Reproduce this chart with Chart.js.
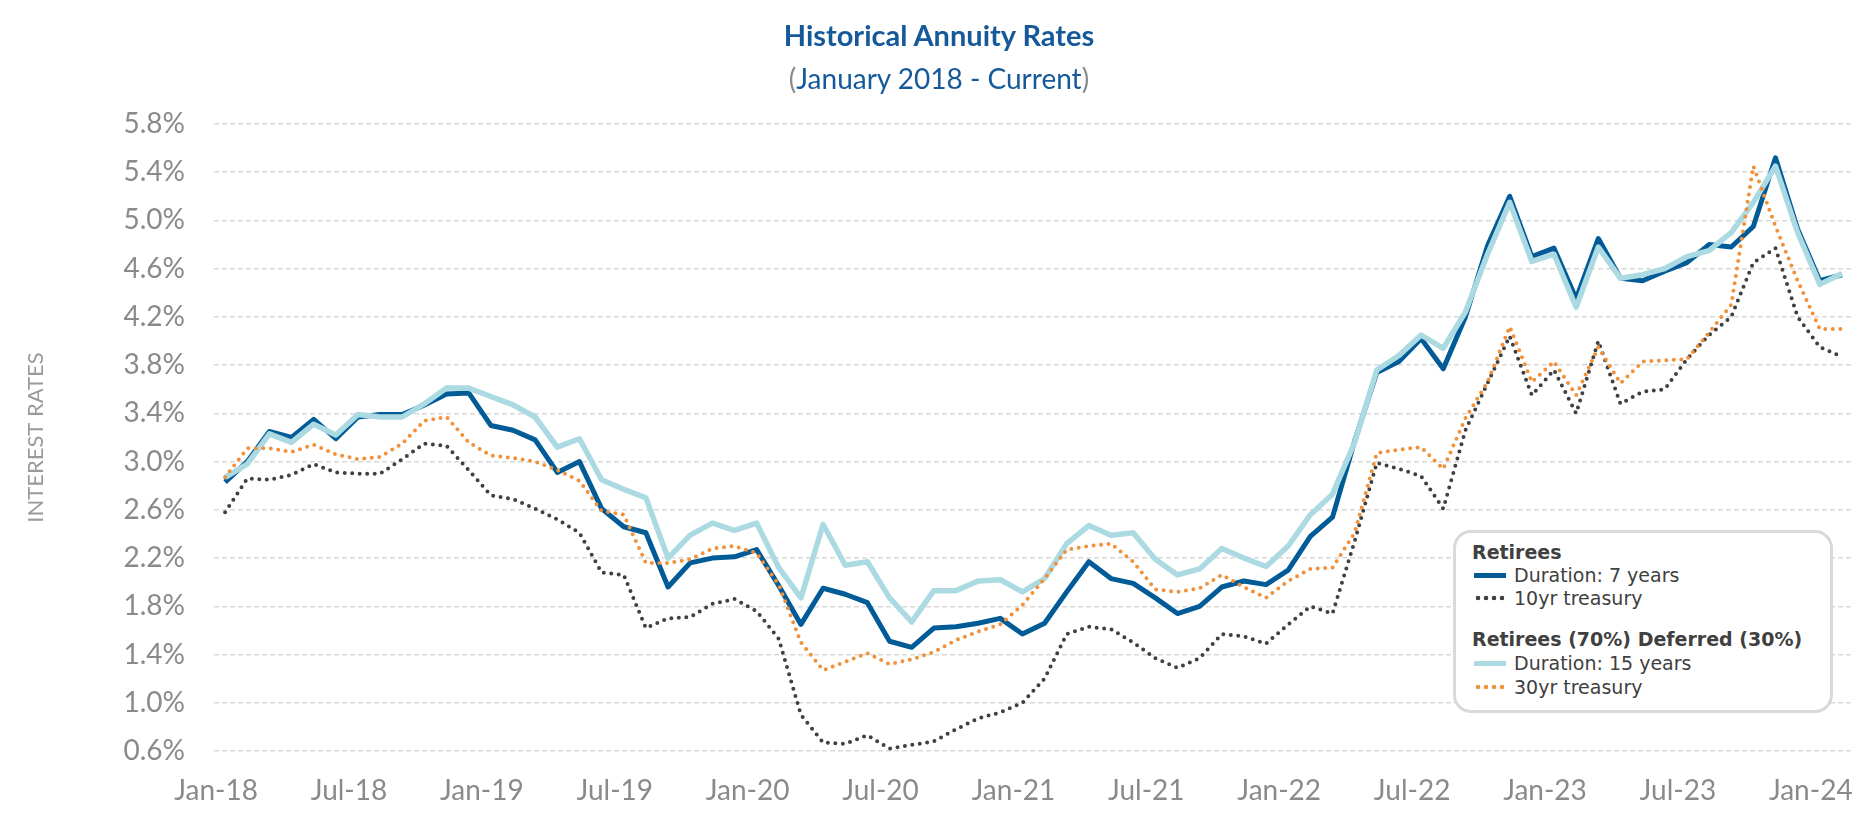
<!DOCTYPE html>
<html>
<head>
<meta charset="utf-8">
<title>Historical Annuity Rates</title>
<script src="https://cdn.jsdelivr.net/npm/chart.js@4.4.1/dist/chart.umd.min.js"></script>
<style>
    body { margin: 0; background: #fff; font-family: Lato, "Open Sans", sans-serif; }
    #wrap { position: relative; width: 1875px; height: 829px; }
    #title { position: absolute; left: 0; width: 1878px; top: 16px; text-align: center; color: #15599a; }
    #title .main { font-weight: bold; font-size: 29px; line-height: 38px; }
    #title .sub { font-size: 28px; line-height: 38px; margin-top: 5px; }
    #title .paren { color: #8a8a8a; }
    #legend {
        position: absolute; left: 1453px; top: 530px; width: 374px; height: 177px;
        border: 3px solid #d9d9d9; border-radius: 18px; background: #fff;
        color: #404040; font-family: "DejaVu Sans", sans-serif; font-size: 19px;
    }
    #legend .head { position: absolute; left: 16px; font-weight: bold; }
    #legend .item { position: absolute; left: 58px; }
    #legend .sw { position: absolute; left: -40px; top: 50%; width: 32px; }
    .solid-dark { height: 5px; margin-top: -2px; background: #005b97; }
    .solid-light { height: 5px; margin-top: -2px; background: #acdae2; }
    .dots-black { height: 6px; margin-top: -3px; background: radial-gradient(circle, #404040 2px, transparent 2.6px) 0 0 / 8px 6px repeat-x; }
    .dots-orange { height: 6px; margin-top: -3px; background: radial-gradient(circle, #f0913c 2px, transparent 2.6px) 0 0 / 8px 6px repeat-x; }
</style>
</head>
<body>
<div id="wrap">
    <canvas id="chart" width="1875" height="829"></canvas>
    <div id="title">
        <div class="main">Historical Annuity Rates</div>
        <div class="sub"><span class="paren">(</span>January 2018 - Current<span class="paren">)</span></div>
    </div>
    <div id="legend">
        <div class="head" style="top: 8px;">Retirees</div>
        <div class="item" style="top: 31px;"><div class="sw solid-dark"></div>Duration: 7 years</div>
        <div class="item" style="top: 54px;"><div class="sw dots-black"></div>10yr treasury</div>
        <div class="head" style="top: 95px;">Retirees (70%) Deferred (30%)</div>
        <div class="item" style="top: 119px;"><div class="sw solid-light"></div>Duration: 15 years</div>
        <div class="item" style="top: 143px;"><div class="sw dots-orange"></div>30yr treasury</div>
    </div>
</div>
<script>

var months = [
    'Jan-18', 'Feb-18', 'Mar-18', 'Apr-18', 'May-18', 'Jun-18', 'Jul-18', 'Aug-18', 'Sep-18', 'Oct-18', 'Nov-18', 'Dec-18',
    'Jan-19', 'Feb-19', 'Mar-19', 'Apr-19', 'May-19', 'Jun-19', 'Jul-19', 'Aug-19', 'Sep-19', 'Oct-19', 'Nov-19', 'Dec-19',
    'Jan-20', 'Feb-20', 'Mar-20', 'Apr-20', 'May-20', 'Jun-20', 'Jul-20', 'Aug-20', 'Sep-20', 'Oct-20', 'Nov-20', 'Dec-20',
    'Jan-21', 'Feb-21', 'Mar-21', 'Apr-21', 'May-21', 'Jun-21', 'Jul-21', 'Aug-21', 'Sep-21', 'Oct-21', 'Nov-21', 'Dec-21',
    'Jan-22', 'Feb-22', 'Mar-22', 'Apr-22', 'May-22', 'Jun-22', 'Jul-22', 'Aug-22', 'Sep-22', 'Oct-22', 'Nov-22', 'Dec-22',
    'Jan-23', 'Feb-23', 'Mar-23', 'Apr-23', 'May-23', 'Jun-23', 'Jul-23', 'Aug-23', 'Sep-23', 'Oct-23', 'Nov-23', 'Dec-23',
    'Jan-24', 'Feb-24'
];

// Retirees - Duration: 7 years
var duration7 = [
    2.83, 3.00, 3.25, 3.20, 3.35, 3.19, 3.37, 3.39, 3.39, 3.47, 3.56, 3.57,
    3.30, 3.26, 3.18, 2.91, 3.00, 2.61, 2.46, 2.41, 1.96, 2.16, 2.20, 2.21,
    2.27, 1.97, 1.65, 1.95, 1.90, 1.83, 1.51, 1.46, 1.62, 1.63, 1.66, 1.70,
    1.57, 1.66, 1.92, 2.17, 2.03, 1.99, 1.87, 1.74, 1.80, 1.96, 2.01, 1.98,
    2.10, 2.38, 2.54, 3.17, 3.74, 3.83, 4.02, 3.77, 4.20, 4.79, 5.20, 4.70,
    4.77, 4.35, 4.85, 4.52, 4.50, 4.58, 4.65, 4.80, 4.78, 4.95, 5.52, 4.93,
    4.50, 4.55
];

// Retirees - 10yr treasury
var treasury10 = [
    2.58, 2.86, 2.85, 2.89, 2.98, 2.91, 2.90, 2.90, 3.02, 3.15, 3.13, 2.93,
    2.72, 2.69, 2.61, 2.52, 2.41, 2.08, 2.06, 1.62, 1.70, 1.71, 1.82, 1.86,
    1.76, 1.53, 0.90, 0.67, 0.66, 0.73, 0.62, 0.65, 0.68, 0.78, 0.87, 0.92,
    1.00, 1.20, 1.57, 1.63, 1.61, 1.50, 1.37, 1.29, 1.37, 1.57, 1.55, 1.49,
    1.65, 1.80, 1.74, 2.34, 2.99, 2.94, 2.88, 2.61, 3.26, 3.65, 4.04, 3.55,
    3.76, 3.40, 4.00, 3.48, 3.58, 3.60, 3.85, 4.05, 4.20, 4.65, 4.77, 4.20,
    3.95, 3.87
];

// Retirees (70%) Deferred (30%) - Duration: 15 years
var duration15 = [
    2.87, 2.98, 3.23, 3.16, 3.31, 3.22, 3.39, 3.37, 3.37, 3.48, 3.61, 3.61,
    3.54, 3.47, 3.37, 3.12, 3.19, 2.85, 2.77, 2.70, 2.20, 2.39, 2.49, 2.43,
    2.49, 2.12, 1.87, 2.48, 2.14, 2.17, 1.87, 1.67, 1.93, 1.93, 2.01, 2.02,
    1.92, 2.03, 2.32, 2.47, 2.39, 2.41, 2.19, 2.06, 2.11, 2.28, 2.20, 2.13,
    2.30, 2.56, 2.73, 3.16, 3.76, 3.88, 4.05, 3.94, 4.24, 4.72, 5.15, 4.66,
    4.72, 4.28, 4.78, 4.52, 4.55, 4.60, 4.70, 4.75, 4.90, 5.15, 5.45, 4.90,
    4.47, 4.56
];

// Retirees (70%) Deferred (30%) - 30yr treasury
var treasury30 = [
    2.87, 3.11, 3.11, 3.08, 3.14, 3.06, 3.02, 3.04, 3.15, 3.34, 3.37, 3.16,
    3.05, 3.03, 3.00, 2.93, 2.84, 2.59, 2.56, 2.16, 2.16, 2.19, 2.28, 2.30,
    2.24, 1.98, 1.50, 1.27, 1.34, 1.41, 1.32, 1.36, 1.42, 1.52, 1.59, 1.65,
    1.81, 2.03, 2.27, 2.30, 2.32, 2.17, 1.94, 1.92, 1.95, 2.06, 1.96, 1.87,
    2.01, 2.11, 2.12, 2.41, 3.07, 3.10, 3.12, 2.94, 3.36, 3.66, 4.12, 3.66,
    3.83, 3.55, 3.95, 3.65, 3.83, 3.84, 3.85, 4.07, 4.30, 5.45, 4.95, 4.50,
    4.10, 4.10
];

var Y_MIN = 0.6;
var Y_MAX = 5.8;
var Y_STEP = 0.4;
var LABEL_EVERY = 6;

var tickFont = { family: 'Lato', size: 28 };
var tickColor = '#8a8a8a';

function dotted(label, data, color) {
    return {
        label: label,
        data: data,
        borderColor: color,
        borderWidth: 4,
        borderDash: [0, 7.5],
        borderCapStyle: 'round',
        pointRadius: 0,
        tension: 0,
        fill: false
    };
}

function solid(label, data, color, width) {
    return {
        label: label,
        data: data,
        borderColor: color,
        borderWidth: width,
        borderJoinStyle: 'round',
        pointRadius: 0,
        tension: 0,
        fill: false
    };
}

// first dataset is drawn on top
var datasets = [
    dotted('30yr treasury', treasury30, '#f0913c'),
    dotted('10yr treasury', treasury10, '#404040'),
    solid('Duration: 15 years', duration15, '#acdae2', 5.5),
    solid('Duration: 7 years', duration7, '#005b97', 5)
];

var chart = new Chart(document.getElementById('chart').getContext('2d'), {
    type: 'line',
    data: { labels: months, datasets: datasets },
    options: {
        responsive: false,
        animation: false,
        layout: { padding: { top: 124, right: 22, bottom: 0, left: 0 } },
        plugins: {
            legend: { display: false },
            tooltip: { enabled: false }
        },
        scales: {
            x: {
                type: 'category',
                offset: true,
                grid: { display: false, drawTicks: false },
                border: { display: false },
                ticks: {
                    autoSkip: false,
                    maxRotation: 0,
                    padding: 23,
                    labelOffset: -9,
                    color: tickColor,
                    font: tickFont,
                    callback: function (val, idx) {
                        return idx % LABEL_EVERY === 0 ? this.getLabelForValue(val) : '';
                    }
                },
                afterFit: function (scale) { scale.height = 78; }
            },
            y: {
                min: Y_MIN,
                max: Y_MAX,
                grid: { color: '#d9d9d9', lineWidth: 1.5, drawTicks: false },
                border: { display: false, dash: [5, 3] },
                ticks: {
                    stepSize: Y_STEP,
                    padding: 29,
                    color: tickColor,
                    font: tickFont,
                    callback: function (val) { return val.toFixed(1) + '%'; }
                },
                title: {
                    display: true,
                    text: 'INTEREST RATES',
                    color: '#9a9a9a',
                    font: { family: 'Lato', size: 22 },
                    padding: { top: 23, bottom: 0 }
                },
                afterFit: function (scale) { scale.width = 214; }
            }
        }
    }
});
</script>
</body>
</html>
